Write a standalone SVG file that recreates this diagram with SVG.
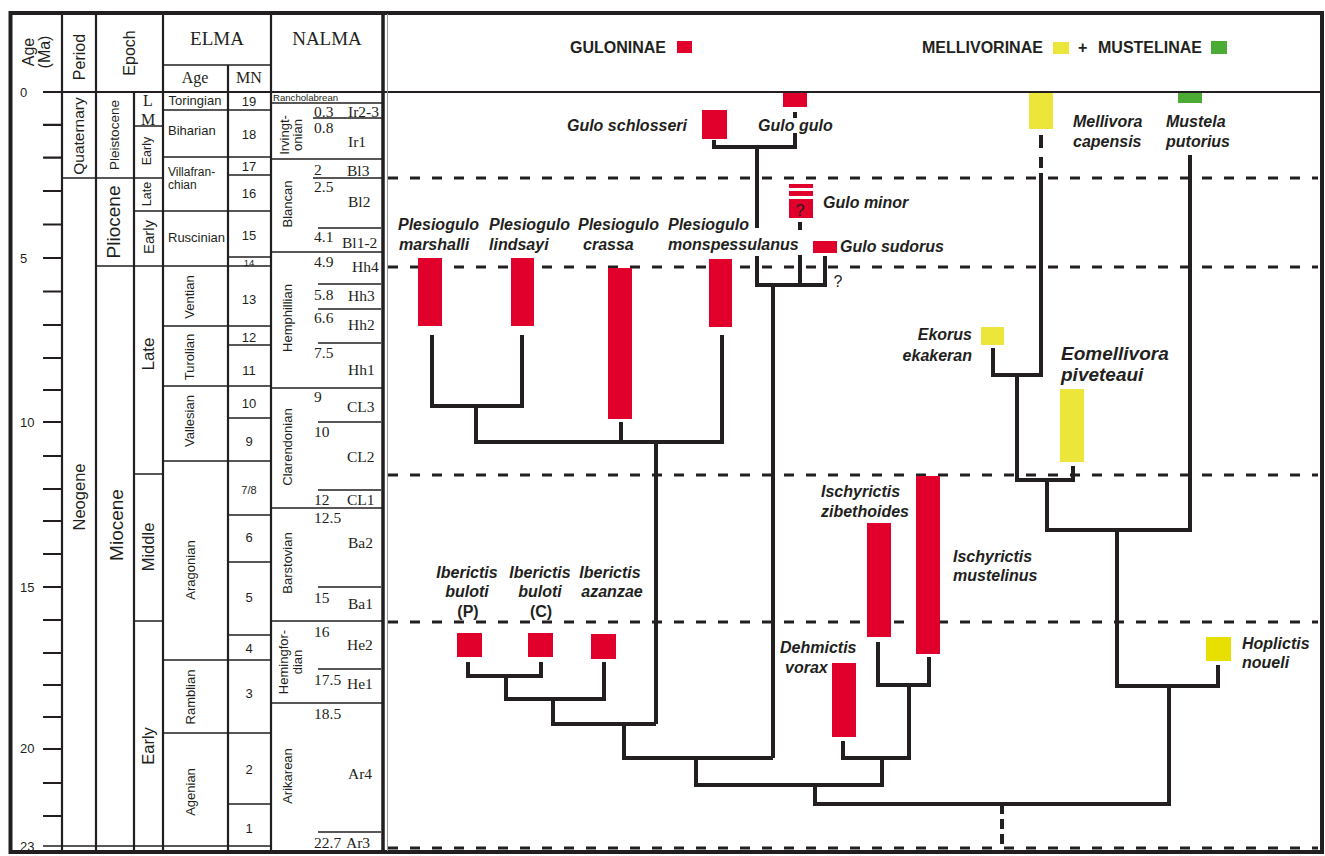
<svg xmlns="http://www.w3.org/2000/svg" width="1325" height="856" viewBox="0 0 1325 856">
<style>
.ln{stroke:#231f20;stroke-width:1.6;fill:none}
.ln2{stroke:#231f20;stroke-width:2.2;fill:none}
.tr{stroke:#231f20;stroke-width:4;fill:none;stroke-linejoin:miter;stroke-linecap:butt}
.da{stroke:#231f20;stroke-width:3;stroke-dasharray:10 12;fill:none}
.sa{font-family:"Liberation Sans",Arial,sans-serif;fill:#231f20}
.tm{font-family:"Liberation Serif","Times New Roman",serif;fill:#231f20}
.sp{font-family:"Liberation Sans",Arial,sans-serif;font-weight:bold;font-style:italic;font-size:16px;fill:#231f20}
.big{font-size:19px}
.hd{font-family:"Liberation Sans",Arial,sans-serif;font-weight:bold;font-size:16px;fill:#231f20}
.rc{dominant-baseline:central;text-anchor:middle}
.red{fill:#e0002b}
.yel{fill:#ece53a}
.grn{fill:#4bab34}
</style>
<rect x="0" y="0" width="1325" height="856" fill="#ffffff"/>

<g id="timescale">
<path class="ln2" d="M62 13V852M96 13V852M163 13V852M228 65V852M271 13V852M134 92V852"/>
<path class="ln2" d="M43 92H1322"/>
<path class="ln" d="M163 65H271M43 846H271"/>
<path class="ln2" d="M43 124.8H62M43 157.6H62M43 191H62M43 224.5H62M43 258H62M43 291.5H62M43 325H62M43 358H62M43 390H62M43 422H62M43 456H62M43 489H62M43 521H62M43 554H62M43 587H62M43 620H62M43 653H62M43 685H62M43 717H62M43 749H62M43 783H62M43 816H62"/>
<g class="sa" font-size="13">
<text x="20" y="97">0</text><text x="20" y="263">5</text><text x="20" y="427">10</text><text x="20" y="592">15</text><text x="20" y="753">20</text><text x="20" y="851">23</text>
</g>
<g class="sa" font-size="16">
<text class="rc" transform="translate(28,52) rotate(-90)">Age</text>
<text class="rc" transform="translate(44,52) rotate(-90)">(Ma)</text>
<text class="rc" transform="translate(79,57) rotate(-90)">Period</text>
<text class="rc" transform="translate(129,53) rotate(-90)">Epoch</text>
</g>
<g class="tm">
<text x="217" y="45" font-size="19" text-anchor="middle">ELMA</text>
<text x="327" y="45" font-size="19" text-anchor="middle">NALMA</text>
<text x="195" y="83" font-size="16" text-anchor="middle">Age</text>
<text x="249" y="83" font-size="16" text-anchor="middle">MN</text>
</g>
<path class="ln" d="M62 178H163"/>
<g class="sa">
<text class="rc" font-size="15.5" transform="translate(78,136) rotate(-90)">Quaternary</text>
<text class="rc" font-size="16.5" transform="translate(79,497) rotate(-90)">Neogene</text>
<text class="rc" font-size="13.5" transform="translate(114,135) rotate(-90)">Pleistocene</text>
<text class="rc" font-size="19" transform="translate(113,222) rotate(-90)">Pliocene</text>
<text class="rc" font-size="19" transform="translate(116,525) rotate(-90)">Miocene</text>
<text class="rc" font-size="12.5" transform="translate(147,151) rotate(-90)">Early</text>
<text class="rc" font-size="12.5" transform="translate(147,194) rotate(-90)">Late</text>
<text class="rc" font-size="15" transform="translate(148,237) rotate(-90)">Early</text>
<text class="rc" font-size="17" transform="translate(148,354) rotate(-90)">Late</text>
<text class="rc" font-size="16.5" transform="translate(148,547) rotate(-90)">Middle</text>
<text class="rc" font-size="16.5" transform="translate(148,746) rotate(-90)">Early</text>
</g>
<path class="ln" d="M96 266H163M134 126H163M134 211H163M134 474H163M134 621H163"/>
<g class="tm" font-size="16" text-anchor="middle"><text x="148" y="106">L</text><text x="148" y="125">M</text></g>
<path class="ln" d="M163 110H271M163 157H271M163 211H271M163 266H271M163 326H271M163 386H271M163 461H271M163 660H271M163 733H271"/>
<path class="ln" d="M228 175H271M228 257H271M228 345H271M228 418H271M228 515H271M228 562H271M228 635H271M228 804H271"/>
<g class="sa" font-size="13">
<text x="195" y="105" text-anchor="middle">Toringian</text>
<text x="168" y="135">Biharian</text>
<text x="168" y="176" font-size="12">Villafran-</text>
<text x="168" y="189" font-size="12">chian</text>
<text x="168" y="242">Ruscinian</text>
<text class="rc" transform="translate(189,297) rotate(-90)">Ventian</text>
<text class="rc" transform="translate(189,357) rotate(-90)">Turolian</text>
<text class="rc" transform="translate(189,421) rotate(-90)">Vallesian</text>
<text class="rc" transform="translate(190,570) rotate(-90)">Aragonian</text>
<text class="rc" transform="translate(190,697) rotate(-90)">Ramblian</text>
<text class="rc" transform="translate(190,792) rotate(-90)">Agenian</text>
</g>
<g class="sa" font-size="13" text-anchor="middle">
<text x="249" y="106">19</text><text x="249" y="139">18</text><text x="249" y="171">17</text><text x="249" y="198">16</text>
<text x="249" y="240">15</text><text x="249" y="266" font-size="9.5">14</text><text x="249" y="304">13</text><text x="249" y="342">12</text>
<text x="249" y="375">11</text><text x="249" y="408">10</text><text x="249" y="446">9</text><text x="249" y="494" font-size="11">7/8</text>
<text x="249" y="542">6</text><text x="249" y="602">5</text><text x="249" y="653">4</text><text x="249" y="698">3</text>
<text x="249" y="774">2</text><text x="249" y="833">1</text>
</g>
<path class="ln" d="M271 103H383M271 159H383M271 252H383M271 388H383M271 508H383M271 621H383M271 703H383"/>
<path class="ln" d="M313 118H382M313 178H382M318 228H381M318 284H381M318 309H381M318 343H381M318 422H381M318 490H381M318 587H381M318 669H381M318 832H381"/>
<text class="sa" x="273" y="101" font-size="9.6">Rancholabrean</text>
<g class="sa" font-size="13">
<text class="rc" transform="translate(284,135) rotate(-90)">Irvingt-</text>
<text class="rc" transform="translate(297,135) rotate(-90)">onian</text>
<text class="rc" transform="translate(287,204) rotate(-90)">Blancan</text>
<text class="rc" transform="translate(287,318) rotate(-90)">Hemphillian</text>
<text class="rc" transform="translate(287,447) rotate(-90)">Clarendonian</text>
<text class="rc" transform="translate(287,563) rotate(-90)">Barstovian</text>
<text class="rc" transform="translate(283,662) rotate(-90)">Hemingfor-</text>
<text class="rc" transform="translate(297,662) rotate(-90)">dian</text>
<text class="rc" transform="translate(287,776) rotate(-90)">Arikarean</text>
</g>
<g class="tm" font-size="15.5">
<text x="314" y="117">0.3</text><text x="348" y="117">Ir2-3</text>
<text x="314" y="133">0.8</text><text x="348" y="147">Ir1</text>
<text x="314" y="175">2</text><text x="347" y="176">Bl3</text>
<text x="314" y="192">2.5</text><text x="348" y="207">Bl2</text>
<text x="314" y="242">4.1</text><text x="342" y="248">Bl1-2</text>
<text x="314" y="267">4.9</text><text x="352" y="272">Hh4</text>
<text x="314" y="300">5.8</text><text x="348" y="301">Hh3</text>
<text x="314" y="323">6.6</text><text x="348" y="330">Hh2</text>
<text x="314" y="358">7.5</text><text x="348" y="375">Hh1</text>
<text x="314" y="402">9</text><text x="347" y="412">CL3</text>
<text x="314" y="437">10</text><text x="347" y="462">CL2</text>
<text x="314" y="505">12</text><text x="347" y="505">CL1</text>
<text x="314" y="523">12.5</text><text x="348" y="548">Ba2</text>
<text x="314" y="603">15</text><text x="348" y="609">Ba1</text>
<text x="314" y="637">16</text><text x="347" y="650">He2</text>
<text x="314" y="685">17.5</text><text x="347" y="689">He1</text>
<text x="314" y="719">18.5</text><text x="348" y="779">Ar4</text>
<text x="314" y="848">22.7</text><text x="346" y="848">Ar3</text>
</g>
</g>

<g id="frame">
<rect x="10.5" y="13" width="1311.5" height="839" fill="none" stroke="#231f20" stroke-width="4"/>
<path d="M383 13V852" stroke="#231f20" stroke-width="3.5"/>
<path d="M387.5 14V851" stroke="#9a9a9a" stroke-width="1"/>
</g>

<g id="legend">
<text class="hd" x="570" y="53">GULONINAE</text>
<rect class="red" x="677" y="41" width="15" height="12"/>
<text class="hd" x="922" y="53">MELLIVORINAE</text>
<rect class="yel" x="1053" y="42" width="16" height="12"/>
<text class="hd" x="1078" y="53">+</text>
<text class="hd" x="1098" y="53">MUSTELINAE</text>
<rect class="grn" x="1211" y="41" width="16" height="13"/>
</g>

<g id="time-lines">
<path class="da" d="M388 178H1318M388 267H1318M388 475H1318M388 622H1318M388 848H1318"/>
</g>

<g id="connectors">
<path class="tr" d="M714 140V147H795V133M795 112V118M757 147V228"/>
<path class="tr" d="M757 256V285H825V256M800 255V285M800 222V230M773 285V758"/>
<path class="tr" d="M432 335V406H522V335M476 406V442H722V335M621 422V442M656 442V724"/>
<path class="tr" d="M468 662V676H541V662M506 676V699H604V662M553 699V724H656M624 724V758H773"/>
<path class="tr" d="M696 758V785H882V758M878 642V685H929V657M909 685V758H843V741"/>
<path class="tr" d="M815 785V804H1169V686M1117 530V686H1218V665M1047 480V530H1190V155M1017 375V480H1073V466M993 348V375H1041V173M1041 135V148M1041 157V168"/>
<path d="M1002 804V848" stroke="#231f20" stroke-width="4" stroke-dasharray="10 5"/>
</g>

<g id="gulo-gulo"><rect class="red" x="783" y="93" width="24" height="14"/><text class="sp" x="758" y="131">Gulo gulo</text></g>
<g id="gulo-schlosseri"><rect class="red" x="702" y="110" width="25" height="29"/><text class="sp" x="687" y="131" text-anchor="end">Gulo schlosseri</text></g>
<g id="gulo-minor">
<rect class="red" x="789" y="184" width="24" height="4"/>
<rect class="red" x="789" y="191" width="24" height="5"/>
<rect class="red" x="789" y="199" width="24" height="19"/>
<text class="sa" x="800" y="216" font-size="16" text-anchor="middle">?</text>
<text class="sp" x="823" y="208">Gulo minor</text>
</g>
<g id="gulo-sudorus"><rect class="red" x="813" y="241" width="24" height="12"/><text class="sp" x="840" y="252">Gulo sudorus</text>
<text class="sa" x="838" y="287" font-size="16" text-anchor="middle">?</text></g>

<g id="plesiogulo-marshalli"><rect class="red" x="418" y="258" width="24" height="68"/><text class="sp" x="398" y="230">Plesiogulo</text><text class="sp" x="399" y="250">marshalli</text></g>
<g id="plesiogulo-lindsayi"><rect class="red" x="511" y="258" width="23" height="68"/><text class="sp" x="489" y="230">Plesiogulo</text><text class="sp" x="489" y="250">lindsayi</text></g>
<g id="plesiogulo-crassa"><rect class="red" x="608" y="268" width="24" height="151"/><text class="sp" x="578" y="230">Plesiogulo</text><text class="sp" x="583" y="250">crassa</text></g>
<g id="plesiogulo-monspessulanus"><rect class="red" x="709" y="259" width="23" height="68"/><text class="sp" x="668" y="230">Plesiogulo</text><text class="sp" x="668" y="250">monspessulanus</text></g>

<g id="mellivora-capensis"><rect class="yel" x="1029" y="93" width="24" height="36"/><text class="sp" x="1073" y="127">Mellivora</text><text class="sp" x="1073" y="147">capensis</text></g>
<g id="mustela-putorius"><rect class="grn" x="1178" y="93" width="24" height="10"/><text class="sp" x="1166" y="127">Mustela</text><text class="sp" x="1166" y="147">putorius</text></g>
<g id="ekorus-ekakeran"><rect class="yel" x="981" y="327" width="23" height="18"/><text class="sp" x="972" y="340" text-anchor="end">Ekorus</text><text class="sp" x="972" y="361" text-anchor="end">ekakeran</text></g>
<g id="eomellivora-piveteaui"><rect class="yel" x="1060" y="389" width="24" height="73"/><text class="sp big" x="1061" y="360">Eomellivora</text><text class="sp big" x="1061" y="381">piveteaui</text></g>

<g id="ischyrictis-zibethoides"><rect class="red" x="867" y="523" width="24" height="114"/><text class="sp" x="821" y="497">Ischyrictis</text><text class="sp" x="821" y="517">zibethoides</text></g>
<g id="ischyrictis-mustelinus"><rect class="red" x="916" y="476" width="24" height="178"/><text class="sp" x="953" y="562">Ischyrictis</text><text class="sp" x="953" y="581">mustelinus</text></g>
<g id="dehmictis-vorax"><rect class="red" x="832" y="663" width="24" height="74"/><text class="sp" x="780" y="653">Dehmictis</text><text class="sp" x="785" y="673">vorax</text></g>

<g id="iberictis-buloti-p"><rect class="red" x="457" y="633" width="25" height="24"/><text class="sp" x="467" y="578" text-anchor="middle">Iberictis</text><text class="sp" x="467" y="597" text-anchor="middle">buloti</text><text class="hd" x="468" y="617" text-anchor="middle">(P)</text></g>
<g id="iberictis-buloti-c"><rect class="red" x="528" y="633" width="25" height="24"/><text class="sp" x="540" y="578" text-anchor="middle">Iberictis</text><text class="sp" x="540" y="597" text-anchor="middle">buloti</text><text class="hd" x="541" y="617" text-anchor="middle">(C)</text></g>
<g id="iberictis-azanzae"><rect class="red" x="591" y="634" width="25" height="25"/><text class="sp" x="610" y="578" text-anchor="middle">Iberictis</text><text class="sp" x="612" y="597" text-anchor="middle">azanzae</text></g>

<g id="hoplictis-noueli"><rect x="1206" y="637" width="25" height="24" fill="#e6df00"/><text class="sp" x="1242" y="649">Hoplictis</text><text class="sp" x="1242" y="668">noueli</text></g>
</svg>
